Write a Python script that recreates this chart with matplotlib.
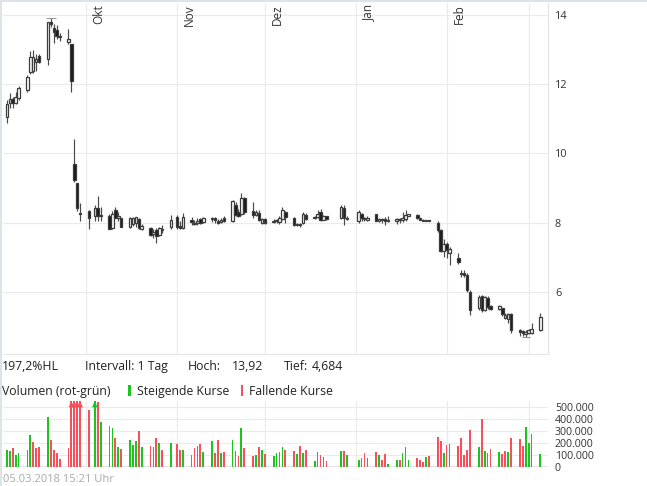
import numpy as np
import pandas as pd
import matplotlib
matplotlib.use('Agg')
import matplotlib.pyplot as plt
import matplotlib.dates as mdates
from matplotlib.patches import Rectangle

plt.rcParams['font.family'] = ['Open Sans', 'DejaVu Sans']

W, H = 647, 486

# trading days, German exchange holidays left out
holidays = ['2017-10-03', '2017-10-31', '2017-12-25', '2017-12-26', '2018-01-01']
days = pd.bdate_range('2017-09-04', '2018-03-05', freq='C', holidays=holidays)

# one row per week
opens = [11.06, 11.45, 11.56, 11.45, 11.60,
         11.83, 12.36, 12.39, 12.63, 12.82,
         12.72, 13.79, 13.62, 13.58, 13.39,
         13.23, 13.15, 9.69, 9.15, 8.29,
         8.33, 8.19, 8.43, 8.20,
         8.20, 7.85, 8.35, 8.14, 8.12,
         7.86, 7.95, 8.00, 8.10, 7.82,
         7.85, 7.66, 7.79, 7.65, 7.81,
         7.88, 8.15, 7.90, 7.83,
         8.07, 7.97, 8.00, 8.10, 8.02,
         8.10, 8.12, 8.05, 8.01, 8.12,
         8.03, 8.50, 8.30, 8.25, 8.72,
         8.32, 8.22, 8.27, 8.00, 8.09,
         8.01, 8.03, 8.02, 8.10, 8.30,
         8.14, 7.93, 7.97, 7.98, 8.22,
         8.12, 8.15, 8.30, 8.08, 8.18,
         8.12, 8.42, 8.10,
         8.03, 8.25, 8.12, 8.08,
         8.24, 8.05, 8.10, 8.10, 8.04,
         8.05, 8.10, 8.06, 8.10, 8.20,
         8.22, 8.12, 8.07, 8.05, 8.06,
         7.98, 7.79, 7.18, 7.38, 7.12,
         6.97, 6.53, 6.55, 6.48, 6.00,
         5.52, 5.88, 5.47, 5.82, 5.58,
         5.50, 5.52, 5.25, 5.20, 5.35,
         4.88, 4.85, 4.78, 4.80, 4.82,
         4.88]
highs = [11.54, 11.74, 11.64, 11.76, 11.95,
         12.27, 12.97, 12.99, 12.87, 12.87,
         13.81, 13.92, 13.74, 13.70, 13.47,
         13.59, 13.15, 10.41, 9.15, 8.56,
         8.36, 8.50, 8.77, 8.45,
         8.25, 8.32, 8.45, 8.30, 8.13,
         8.15, 8.15, 8.17, 8.12, 7.95,
         7.88, 7.80, 7.83, 7.88, 7.92,
         8.22, 8.21, 8.03, 8.27,
         8.15, 8.08, 8.12, 8.14, 8.15,
         8.16, 8.17, 8.10, 8.12, 8.20,
         8.65, 8.58, 8.40, 8.85, 8.75,
         8.60, 8.35, 8.36, 8.12, 8.12,
         8.09, 8.10, 8.20, 8.46, 8.32,
         8.16, 8.00, 8.00, 8.30, 8.28,
         8.20, 8.35, 8.38, 8.22, 8.20,
         8.51, 8.50, 8.18,
         8.36, 8.28, 8.16, 8.18,
         8.26, 8.14, 8.12, 8.15, 8.18,
         8.12, 8.12, 8.30, 8.36, 8.26,
         8.25, 8.14, 8.09, 8.08, 8.08,
         8.03, 7.82, 7.52, 7.44, 7.30,
         7.11, 6.62, 6.62, 6.55, 6.05,
         5.90, 5.91, 5.88, 5.88, 5.62,
         5.62, 5.54, 5.38, 5.38, 5.37,
         4.93, 4.90, 4.88, 4.92, 5.09,
         5.38]
lows = [10.89, 11.30, 11.30, 11.43, 11.54,
        11.76, 12.29, 12.33, 12.39, 12.60,
        12.55, 13.66, 13.20, 13.30, 13.26,
        13.16, 11.76, 9.18, 8.34, 8.03,
        7.80, 8.05, 8.03, 8.03,
        7.80, 7.82, 8.12, 8.05, 7.88,
        7.83, 7.90, 7.88, 7.80, 7.78,
        7.60, 7.55, 7.40, 7.62, 7.69,
        7.81, 7.82, 7.81, 7.81,
        7.92, 7.94, 7.93, 7.95, 7.98,
        8.01, 8.00, 7.96, 7.98, 8.02,
        8.01, 8.20, 8.15, 8.22, 8.25,
        8.12, 8.18, 8.03, 7.97, 7.97,
        7.98, 7.98, 7.96, 8.08, 7.99,
        7.90, 7.90, 7.88, 7.96, 8.08,
        8.10, 8.12, 8.05, 8.06, 8.08,
        8.10, 7.93, 8.08,
        8.00, 8.05, 8.05, 8.05,
        8.03, 8.02, 8.00, 7.94, 8.02,
        7.95, 7.98, 8.02, 8.05, 8.18,
        8.10, 8.06, 8.04, 8.04, 8.03,
        7.74, 7.16, 7.01, 6.98, 6.77,
        6.80, 6.43, 6.43, 6.00, 5.33,
        5.47, 5.42, 5.45, 5.50, 5.47,
        5.48, 5.31, 5.20, 5.09, 4.80,
        4.72, 4.72, 4.684, 4.77, 4.78,
        4.85]
closes = [11.42, 11.56, 11.47, 11.62, 11.88,
          12.20, 12.80, 12.78, 12.72, 12.64,
          13.79, 13.74, 13.50, 13.38, 13.36,
          13.30, 12.09, 9.23, 8.41, 8.25,
          8.14, 8.41, 8.19, 8.23,
          7.82, 8.25, 8.14, 8.18, 7.88,
          8.12, 8.13, 8.15, 7.85, 7.90,
          7.64, 7.74, 7.62, 7.83, 7.77,
          8.07, 7.86, 7.83, 8.15,
          8.02, 8.00, 8.03, 7.99, 8.13,
          8.14, 8.07, 8.00, 8.07, 8.05,
          8.62, 8.22, 8.20, 8.70, 8.30,
          8.22, 8.30, 8.08, 8.10, 8.00,
          8.04, 8.06, 8.12, 8.35, 8.15,
          7.92, 7.95, 7.93, 8.25, 8.10,
          8.15, 8.25, 8.08, 8.18, 8.10,
          8.45, 8.12, 8.14,
          8.30, 8.13, 8.09, 8.14,
          8.05, 8.10, 8.07, 8.03, 8.08,
          8.10, 8.06, 8.14, 8.22, 8.24,
          8.12, 8.08, 8.05, 8.06, 8.04,
          7.79, 7.19, 7.38, 7.20, 7.24,
          6.87, 6.50, 6.48, 6.05, 5.47,
          5.86, 5.48, 5.86, 5.55, 5.50,
          5.58, 5.35, 5.33, 5.35, 4.90,
          4.84, 4.80, 4.83, 4.88, 4.92,
          5.28]
volumes_k = [143, 134, 160, 98, 115,
             143, 269, 210, 162, 168,
             420, 230, 146, 118, 70,
             160, 640, 700, 610, 590,
             475, 620, 545, 375,
             346, 330, 240, 166, 152,
             228, 185, 220, 299, 169,
             177, 169, 245, 203, 144,
             203, 194, 144, 144,
             101, 160, 177, 194, 127,
             220, 118, 228, 120, 129,
             227, 134, 95, 330, 162,
             95, 104, 171, 143, 109,
             95, 120, 129, 171, 146,
             137, 109, 179, 118, 146,
             50, 126, 100, 84, 53,
             137, 137, 100,
             59, 76, 118, 76,
             126, 100, 59, 109, 25,
             59, 59, 118, 168, 59,
             76, 59, 42, 84, 92,
             252, 218, 118, 185, 193,
             176, 244, 100, 143, 311,
             168, 403, 134, 118, 151,
             126, 109, 134, 126, 244,
             235, 176, 336, 202, 277,
             109]

month_starts = ['2017-10-01', '2017-11-01', '2017-12-01', '2018-01-01', '2018-02-01', '2018-03-01']
month_labels = ['Okt', 'Nov', 'Dez', 'Jan', 'Feb', '']
price_ticks = [6, 8, 10, 12, 14]
vol_ticks = [0, 100000, 200000, 300000, 400000, 500000]
stamp = '05.03.2018 15:21 Uhr'

x = mdates.date2num(days.to_pydatetime())
o, h, l, c = map(np.array, (opens, highs, lows, closes))
vol = np.array(volumes_k) * 1000.0
up = np.r_[True, c[1:] >= c[:-1]]

GRID = '#ebebeb'
GREEN = '#1ec41e'
RED = '#f6505d'
TXT = '#222222'


def fx(px):
    return px / W


def fy(py):
    return 1 - py / H


fig = plt.figure(figsize=(W / 100, H / 100), dpi=100, facecolor='white')
fig.add_artist(Rectangle((0, 0), fx(2), 1, transform=fig.transFigure, color='#dde3e9', lw=0))
fig.add_artist(Rectangle((0, fy(2)), 1, 2 / H, transform=fig.transFigure, color='#dde3e9', lw=0))

oct1 = mdates.date2num(pd.Timestamp('2017-10-01').to_pydatetime())
xlim = (oct1 - 28.32, oct1 + 157.6)
months = mdates.date2num(pd.to_datetime(month_starts).to_pydatetime())

# price panel
ax = fig.add_axes([fx(3), fy(354), fx(545), 351 / H])
ax.set_xlim(*xlim)
ax.set_ylim(4.199, 14.347)
for yv in price_ticks:
    ax.axhline(yv, color=GRID, lw=0.8, zorder=0)
for mx in months:
    ax.axvline(mx, color=GRID, lw=0.8, zorder=0)
for mx, lab in zip(months, month_labels):
    ax.annotate(lab, xy=(mx, 1), xycoords=('data', 'axes fraction'),
                xytext=(4.2, -0.8), textcoords='offset points', rotation=90,
                ha='left', va='top', fontsize=8.5, color='#333333')

ax.vlines(x, l, h, colors='#4a4a4a', lw=0.85, zorder=2)
body_lo = np.minimum(o, c)
body_h = np.maximum(np.abs(c - o), 0.005)
face = np.where(c >= o, 'white', '#1a1a1a')
ax.bar(x, body_h, bottom=body_lo, width=0.85, color=face, edgecolor='#3c3c3c',
       lw=0.9, zorder=3)

# high / low markers
ih, il = np.argmax(h), np.argmin(l)
ax.hlines(h[ih], x[ih] - 1.8, x[ih] + 1.8, colors='#999999', lw=0.8, zorder=4)
ax.hlines(l[il], x[il] - 1.4, x[il] + 1.4, colors='#999999', lw=0.8, zorder=4)

ax.yaxis.tick_right()
ax.set_yticks(price_ticks)
ax.set_yticklabels([str(t) for t in price_ticks])
ax.tick_params(axis='y', length=0, pad=5, labelsize=7.8, labelcolor='#333333')
ax.set_xticks([])
for s in ('left', 'top'):
    ax.spines[s].set_visible(False)
for s in ('right', 'bottom'):
    ax.spines[s].set_color('#e4e4e4')
    ax.spines[s].set_linewidth(0.8)

# volume panel
axv = fig.add_axes([fx(3), fy(467), fx(545), 66 / H])
vtop = 553000
axv.set_xlim(*xlim)
axv.set_ylim(0, vtop)
for yv in vol_ticks:
    axv.axhline(yv, color='#e2e2e2' if yv == 0 else GRID, lw=1.3 if yv == 0 else 0.8, zorder=0)
for mx in months:
    axv.axvline(mx, color=GRID, lw=0.8, zorder=0)
vcol = np.where(up, GREEN, RED)
axv.bar(x, vol, width=0.6, color=vcol, lw=0, zorder=2)
for xi, vi, ci in zip(x, vol, vcol):
    if vi > vtop:
        axv.fill([xi - 0.95, xi + 0.95, xi], [500000, 500000, vtop], color=ci, lw=0,
                 zorder=3, clip_on=False)
axv.yaxis.tick_right()
axv.set_yticks(vol_ticks)
axv.set_yticklabels([f'{t:,}'.replace(',', '.') for t in vol_ticks])
axv.tick_params(axis='y', length=0, pad=5, labelsize=7.6, labelcolor='#333333')
axv.set_xticks([])
for s in axv.spines.values():
    s.set_visible(False)

# info rows
hl_pct = (h.max() / l.min() - 1) * 100
fs = 8.8
fig.text(fx(2), fy(370), f'{hl_pct:.1f}%HL'.replace('.', ','), fontsize=fs, color=TXT, va='baseline')
fig.text(fx(85), fy(370), 'Intervall: 1 Tag', fontsize=fs, color=TXT, va='baseline')
fig.text(fx(188), fy(370), 'Hoch:', fontsize=fs, color=TXT, va='baseline')
fig.text(fx(232), fy(370), f'{h.max():.2f}'.replace('.', ','), fontsize=fs, color=TXT, va='baseline')
fig.text(fx(284), fy(370), 'Tief:', fontsize=fs, color=TXT, va='baseline')
fig.text(fx(312), fy(370), f'{l.min():.3f}'.replace('.', ','), fontsize=fs, color=TXT, va='baseline')

fig.text(fx(2), fy(395), 'Volumen (rot-grün)', fontsize=fs, color=TXT, va='baseline')
fig.add_artist(Rectangle((fx(128), fy(396)), fx(2.5), 11 / H, transform=fig.transFigure, color=GREEN, lw=0))
fig.text(fx(137), fy(395), 'Steigende Kurse', fontsize=fs, color=TXT, va='baseline')
fig.add_artist(Rectangle((fx(241), fy(396)), fx(2.5), 11 / H, transform=fig.transFigure, color=RED, lw=0))
fig.text(fx(249), fy(395), 'Fallende Kurse', fontsize=fs, color=TXT, va='baseline')

fig.text(fx(3), fy(482), stamp, fontsize=8, color='#aaaaaa', va='baseline')

fig.savefig('out.png', dpi=100, facecolor='white')
